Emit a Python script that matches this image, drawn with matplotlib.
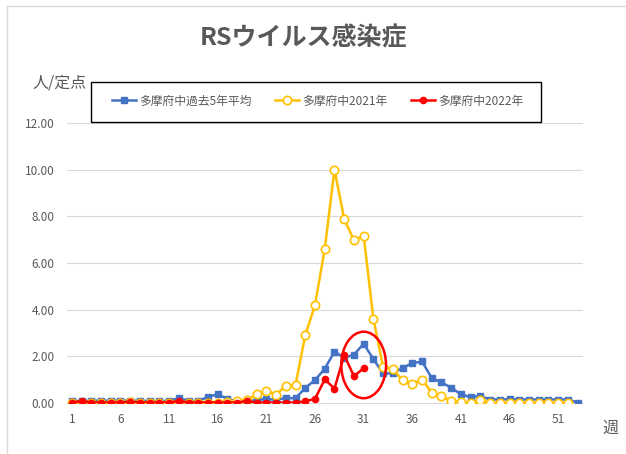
import matplotlib
matplotlib.use("Agg")
import matplotlib.pyplot as plt
from matplotlib.patches import Ellipse, Rectangle
from matplotlib.lines import Line2D

plt.rcParams['font.family'] = ['Noto Sans CJK JP', 'DejaVu Sans']

# weekly sentinel reports per site (Tama-Fuchu)
weeks = list(range(1, 54))
avg5 = [0.10, 0.08, 0.10, 0.10, 0.10, 0.10, 0.10, 0.10, 0.08, 0.08,
        0.10, 0.20, 0.10, 0.08, 0.27, 0.37, 0.18, 0.06, 0.10, 0.12,
        0.18, 0.13, 0.22, 0.20, 0.65, 0.98, 1.47, 2.20, 1.94, 2.07,
        2.54, 1.88, 1.27, 1.27, 1.51, 1.70, 1.78, 1.07, 0.88, 0.66,
        0.37, 0.25, 0.30, 0.15, 0.15, 0.16, 0.15, 0.15, 0.15, 0.15,
        0.15, 0.15, 0.02]
y2021 = [0.02, 0.00, 0.00, 0.02, 0.00, 0.02, 0.03, 0.02, 0.00, 0.00,
         0.02, 0.00, 0.00, 0.02, 0.02, 0.00, 0.06, 0.09, 0.13, 0.37,
         0.52, 0.36, 0.75, 0.78, 2.92, 4.20, 6.60, 10.00, 7.89, 6.97,
         7.17, 3.61, 1.55, 1.45, 0.97, 0.80, 1.00, 0.45, 0.28, 0.10,
         0.04, 0.00, 0.11, 0.00, 0.00, 0.00, 0.00, 0.00, 0.00, 0.00,
         0.00, 0.00]
y2022 = [0.02, 0.08, 0.02, 0.02, 0.02, 0.02, 0.05, 0.02, 0.02, 0.02,
         0.02, 0.09, 0.02, 0.02, 0.02, 0.02, 0.02, 0.02, 0.09, 0.02,
         0.02, 0.02, 0.02, 0.02, 0.07, 0.18, 1.01, 0.62, 2.05, 1.15,
         1.49]
labels = ['多摩府中過去5年平均', '多摩府中2021年', '多摩府中2022年']
xticks = [1, 6, 11, 16, 21, 26, 31, 36, 41, 46, 51]
yticks = [0, 2, 4, 6, 8, 10, 12]

gray = '#595959'
W, H = 626, 454
fig = plt.figure(figsize=(W / 100, H / 100), dpi=100)
ax = fig.add_axes([67 / W, 1 - 403 / H, (582.5 - 67) / W, (403 - 123) / H])

ax.plot(weeks, avg5, '-s', color='#4472C4', lw=1.8, ms=4.5, label=labels[0], zorder=3)
ax.plot(weeks[:len(y2021)], y2021, '-o', color='#FFC000', lw=1.8, ms=6,
        mfc='white', mec='#FFC000', mew=1.2, label=labels[1], zorder=4)
ax.plot(weeks[:len(y2022)], y2022, '-o', color='#FF0000', lw=1.8, ms=4.5,
        label=labels[2], zorder=5)

# highlight circle around latest weeks
ax.add_patch(Ellipse((31.0, 1.63), 4.6, 2.85, fill=False, ec='#FF0000', lw=1.8, zorder=6))

ax.set_xlim(0.5, 53.5)
ax.set_ylim(0, 12)
ax.set_xticks(xticks)
ax.set_yticks(yticks)
ax.set_yticklabels([f'{v:.2f}' for v in yticks])
ax.grid(axis='y', color='#D9D9D9', lw=0.8)
ax.set_axisbelow(True)
for s in ['top', 'right', 'left']:
    ax.spines[s].set_visible(False)
ax.spines['bottom'].set_color('#D9D9D9')
ax.tick_params(length=0, colors=gray, labelsize=8.5)
ax.tick_params(axis='y', pad=9)
ax.tick_params(axis='x', pad=7)

fig.text(303 / W, 1 - 38 / H, 'RSウイルス感染症', ha='center', va='center',
         fontsize=18, fontweight='bold', color=gray)
fig.text(32 / W, 1 - 83 / H, '人/定点', ha='left', va='center', fontsize=11.5, color=gray)
fig.text(602 / W, 1 - 428 / H, '週', ha='left', va='center', fontsize=11.5, color=gray)

# legend box
fig.patches.append(Rectangle((91 / W, 1 - 122 / H), 450 / W, 40 / H, fill=False,
                             ec='black', lw=1, transform=fig.transFigure, figure=fig))
fig.legend(loc='center', bbox_to_anchor=(318 / W, 1 - 101 / H), ncol=3, frameon=False,
           fontsize=8.5, handlelength=2.0, columnspacing=2.0, handletextpad=0.3,
           labelcolor=gray)

# outer chart frame
fig.add_artist(Line2D([7 / W, 7 / W], [0, 1 - 6 / H], color='#D9D9D9', lw=1,
                      transform=fig.transFigure))
fig.add_artist(Line2D([7 / W, 1], [1 - 6 / H, 1 - 6 / H], color='#D9D9D9', lw=1,
                      transform=fig.transFigure))

fig.savefig('out.png', dpi=100)
